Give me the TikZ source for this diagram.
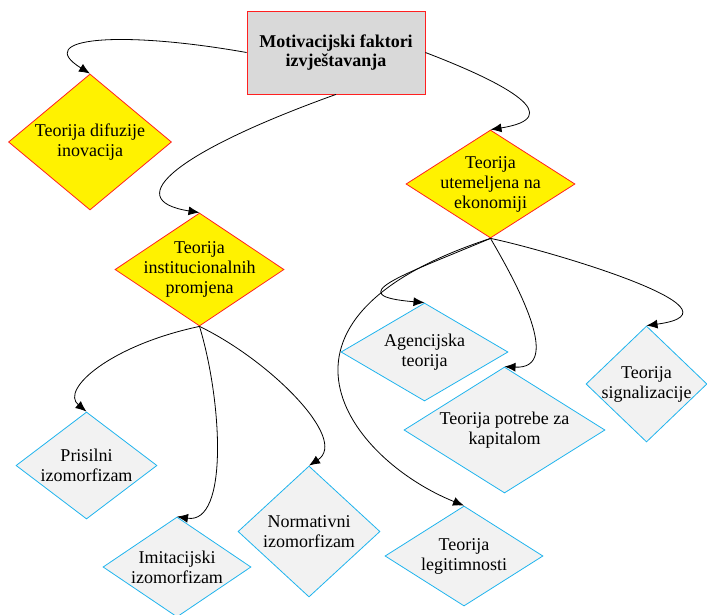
\documentclass[tikz,border=0pt]{standalone}
\usepackage{fontspec}
\setmainfont{Liberation Serif}
\usepackage{tikz}
\usetikzlibrary{shapes, arrows, arrows.meta}
\definecolor{boxgray}{HTML}{D9D9D9}
\definecolor{leafgray}{HTML}{F2F2F2}
\definecolor{leafblue}{HTML}{1FB4EE}
\definecolor{edgered}{HTML}{FF2020}

\begin{document}
\begin{tikzpicture}[auto, x=1pt, y=-1pt, >={Latex[length=11pt,width=9pt]}]
\tikzstyle{block} = [draw=edgered, fill=boxgray, rectangle, line width=0.8pt, minimum height=83pt, minimum width=178pt, font=\fontsize{18}{19}\selectfont\bfseries, align=center]
\tikzstyle{theory} = [draw=edgered, fill=yellow, diamond, line width=0.8pt, inner sep=-8pt, font=\fontsize{18}{20}\selectfont, align=center]
\tikzstyle{leaf} = [draw=leafblue, fill=leafgray, diamond, line width=0.8pt, inner sep=-8pt, font=\fontsize{18}{20}\selectfont, align=center]
\tikzstyle{link} = [->, line width=0.8pt]

\useasboundingbox (0,0) rectangle (707,614);

    % We place the blocks at their page positions
    \node [block] (factors) at (336,52.5) {Motivacijski faktori\\izvještavanja};
    \node [theory, aspect=1.2, minimum width=163pt, minimum height=136pt] (diffusion) at (90,142) {Teorija difuzije\\inovacija};
    \node [theory, aspect=1.5, minimum width=169pt, minimum height=113pt] (inst_change) at (199.5,269.5) {Teorija\\institucionalnih\\promjena};
    \node [theory, aspect=1.56, minimum width=169pt, minimum height=108pt] (econ_theory) at (490.5,184) {Teorija\\utemeljena na\\ekonomiji};

    \node [leaf, aspect=1.7, minimum width=167pt, minimum height=98pt] (agency) at (424.5,352) {Agencijska\\teorija};
    \node [leaf, aspect=1.6, minimum width=201pt, minimum height=126pt] (capital_need) at (504.5,430) {Teorija potrebe za\\kapitalom};
    \node [leaf, aspect=1.04, minimum width=121pt, minimum height=116pt] (signal) at (646.5,384) {Teorija\\signalizacije};
    \node [leaf, aspect=1.58, minimum width=158pt, minimum height=100pt] (legit) at (464,556) {Teorija\\legitimnosti};

    \node [leaf, aspect=1.32, minimum width=141pt, minimum height=107pt] (coercive) at (86.5,465.5) {Prisilni\\izomorfizam};
    \node [leaf, aspect=1.48, minimum width=148pt, minimum height=100pt] (mimetic) at (177,567) {Imitacijski\\izomorfizam};
    \node [leaf, aspect=1.08, minimum width=142pt, minimum height=131pt] (normative) at (309,531.5) {Normativni\\izomorfizam};

    % Then the curved links
    \draw [link] (factors.west) .. controls +(-127,-22.5) and +(-58,-36) .. (diffusion.north);
    \draw [link] (factors.south) .. controls +(-156,56) and +(-82,-13) .. (inst_change.north);
    \draw [link] (factors.east) .. controls +(85,32.5) and +(76,-12) .. (econ_theory.north);

    \draw [link] (econ_theory.south) .. controls +(-90.5,38) and +(-84.5,-7) .. (agency.north);
    \draw [link] (econ_theory.south) .. controls +(24.5,42) and +(60,3) .. (capital_need.north);
    \draw [link] (econ_theory.south) .. controls +(50,10) and +(110,-15) .. (signal.north);
    \draw [link] (econ_theory.south) .. controls +(-250.5,82) and +(-114,-46) .. (legit.north);

    \draw [link] (inst_change.south) .. controls +(-89.5,19) and +(-26.5,-22) .. (coercive.north);
    \draw [link] (inst_change.south) .. controls +(22.5,74) and +(52,8) .. (mimetic.north);
    \draw [link] (inst_change.south) .. controls +(70.5,34) and +(40,-26) .. (normative.north);

\end{tikzpicture}
\end{document}
